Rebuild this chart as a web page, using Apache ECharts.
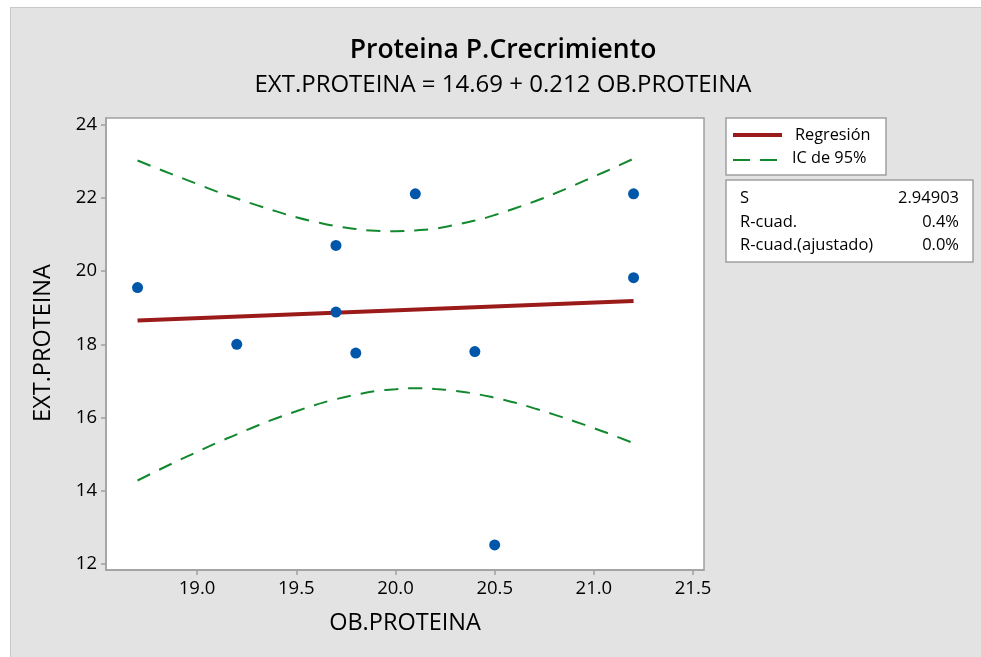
<!DOCTYPE html>
<html><head><meta charset="utf-8">
<script src="https://cdn.jsdelivr.net/npm/echarts@6/dist/echarts.min.js"></script>
<style>
html,body{margin:0;padding:0;background:#fff;}
#bg{position:absolute;left:10px;top:7px;width:970px;height:650px;background:#e3e3e3;border-left:1px solid #c9c9c9;border-top:1px solid #c9c9c9;}
#c{position:absolute;left:0;top:0;width:981px;height:657px;}
</style>
</head><body><div id="bg"></div><div id="c"></div>
<script>
const obProteina  = [18.7, 19.2, 19.7, 19.7, 19.8, 20.1, 20.4, 20.5, 21.2, 21.2];
const extProteina = [19.55, 18.0, 20.7, 18.88, 17.76, 22.11, 17.8, 12.52, 22.11, 19.82];
const regX = [18.7, 21.2];
const regY = [18.65, 19.18];
const ciX = [18.7,18.8,18.9,19.0,19.1,19.2,19.3,19.4,19.5,19.6,19.7,19.8,19.9,20.0,20.1,20.2,20.3,20.4,20.5,20.6,20.7,20.8,20.9,21.0,21.1,21.2];
const ciUpper = [23.02,22.80,22.59,22.38,22.17,21.98,21.80,21.63,21.47,21.34,21.23,21.15,21.10,21.09,21.11,21.16,21.26,21.38,21.53,21.71,21.90,22.11,22.34,22.58,22.82,23.07];
const ciLower = [14.28,14.55,14.81,15.06,15.31,15.54,15.77,15.98,16.17,16.35,16.50,16.62,16.72,16.77,16.80,16.78,16.73,16.65,16.54,16.41,16.25,16.08,15.90,15.71,15.51,15.30];
const xTicks = [19.0, 19.5, 20.0, 20.5, 21.0, 21.5];
const yTicks = [12, 14, 16, 18, 20, 22, 24];
const titleText = 'Proteina P.Crecrimiento';
const subtitleText = 'EXT.PROTEINA = 14.69 + 0.212 OB.PROTEINA';
const xName = 'OB.PROTEINA';
const yName = 'EXT.PROTEINA';
const legendNames = ['Regresión', 'IC de 95%'];
const statLabels = ['S', 'R-cuad.', 'R-cuad.(ajustado)'];
const statValues = ['2.94903', '0.4%', '0.0%'];

const FONT = '"Open Sans", "Noto Sans", sans-serif';
const RED = '#9b1b1b', GREEN = '#12892e', BLUE = '#0056a8', AX = '#a0a0a0';

const chart = echarts.init(document.getElementById('c'), null, {renderer: 'canvas'});

const pts = obProteina.map((x, i) => [x, extProteina[i]]);
const reg = regX.map((x, i) => [x, regY[i]]);
const up = ciX.map((x, i) => [x, ciUpper[i]]);
const lo = ciX.map((x, i) => [x, ciLower[i]]);

const graphics = [
  {type: 'text', x: 503, y: 50, style: {text: titleText, font: '600 26.5px ' + FONT, fill: '#000', textAlign: 'center', textVerticalAlign: 'middle'}},
  {type: 'text', x: 503, y: 85, style: {text: subtitleText, font: '24px ' + FONT, fill: '#000', textAlign: 'center', textVerticalAlign: 'middle'}},
  {type: 'text', x: 405, y: 623, style: {text: xName, font: '23.5px ' + FONT, fill: '#000', textAlign: 'center', textVerticalAlign: 'middle'}},
  {type: 'text', x: 43, y: 343, rotation: Math.PI / 2, style: {text: yName, font: '23.5px ' + FONT, fill: '#000', textAlign: 'center', textVerticalAlign: 'middle'}},
  // legend box
  {type: 'rect', shape: {x: 726, y: 118, width: 160, height: 57}, style: {fill: '#fff', stroke: AX, lineWidth: 1.5}},
  {type: 'line', shape: {x1: 733, y1: 135, x2: 782, y2: 135}, style: {stroke: RED, lineWidth: 4}},
  {type: 'text', x: 795, y: 135, style: {text: legendNames[0], font: '16.3px ' + FONT, fill: '#000', textVerticalAlign: 'middle'}},
  {type: 'line', shape: {x1: 733, y1: 160, x2: 777, y2: 160}, style: {stroke: GREEN, lineWidth: 2, lineDash: [17, 10]}},
  {type: 'text', x: 792, y: 158, style: {text: legendNames[1], font: '16.3px ' + FONT, fill: '#000', textVerticalAlign: 'middle'}},
  // stats box
  {type: 'rect', shape: {x: 726, y: 180, width: 247, height: 82}, style: {fill: '#fff', stroke: AX, lineWidth: 1.5}}
];
const rowY = [198, 222, 245];
statLabels.forEach((t, i) => {
  graphics.push({type: 'text', x: 740, y: rowY[i], style: {text: t, font: '16.5px ' + FONT, fill: '#000', textVerticalAlign: 'middle'}});
  graphics.push({type: 'text', x: 959, y: rowY[i], style: {text: statValues[i], font: '16.5px ' + FONT, fill: '#000', textAlign: 'right', textVerticalAlign: 'middle'}});
});

chart.setOption({
  backgroundColor: 'transparent',
  animation: false,
  grid: {left: 106, top: 118, width: 598, height: 452, show: true, backgroundColor: '#fff', borderColor: AX, borderWidth: 1.5},
  xAxis: {
    type: 'value', min: 18.541, max: 21.555,
    axisLine: {show: true, lineStyle: {color: AX, width: 1.5}},
    axisTick: {show: true, length: 5, lineStyle: {color: AX, width: 1.5}, customValues: xTicks},
    axisLabel: {customValues: xTicks, color: '#000', fontSize: 18.5, fontFamily: FONT, margin: 9, formatter: v => v.toFixed(1)},
    splitLine: {show: false}
  },
  yAxis: {
    type: 'value', min: 11.836, max: 24.18,
    axisLine: {show: true, lineStyle: {color: AX, width: 1.5}},
    axisTick: {show: true, length: 5, lineStyle: {color: AX, width: 1.5}, customValues: yTicks},
    axisLabel: {customValues: yTicks, color: '#000', fontSize: 18.5, fontFamily: FONT, margin: 9},
    splitLine: {show: false}
  },
  graphic: graphics,
  series: [
    {type: 'line', data: up, symbol: 'none', smooth: true, lineStyle: {color: GREEN, width: 2, type: [14, 10]}, z: 2},
    {type: 'line', data: lo, symbol: 'none', smooth: true, lineStyle: {color: GREEN, width: 2, type: [14, 10]}, z: 2},
    {type: 'line', data: reg, symbol: 'none', lineStyle: {color: RED, width: 4}, z: 3},
    {type: 'scatter', data: pts, symbol: 'circle', symbolSize: 11, itemStyle: {color: BLUE, opacity: 1}, z: 4}
  ]
});
</script>
</body></html>
